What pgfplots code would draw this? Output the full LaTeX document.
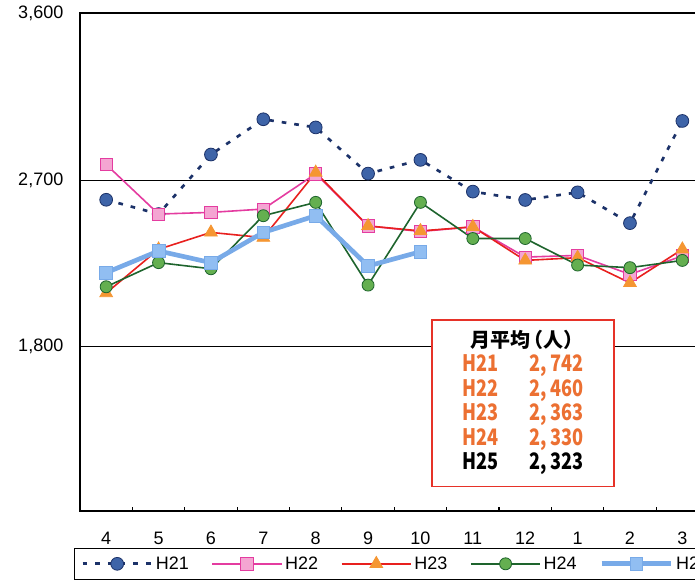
\documentclass[border=0pt]{standalone}
\usepackage{pgfplots}
\pgfplotsset{compat=1.18}
\usepackage{fontspec}
\setmainfont{Liberation Sans}
\newfontfamily\jp{Noto Sans CJK JP}
\newfontfamily\jpc{Noto Sans CJK JP}[FakeStretch=0.8]
\definecolor{c21}{RGB}{28,50,105}
\definecolor{c21f}{RGB}{62,100,168}
\definecolor{c22}{RGB}{228,60,160}
\definecolor{c22f}{RGB}{244,165,210}
\definecolor{c23}{RGB}{232,32,30}
\definecolor{c23f}{RGB}{245,150,50}
\definecolor{c24}{RGB}{30,100,45}
\definecolor{c24f}{RGB}{100,175,80}
\definecolor{c25}{RGB}{120,170,232}
\definecolor{c25f}{RGB}{145,190,242}
\definecolor{txtor}{RGB}{236,112,50}
\definecolor{boxred}{RGB}{230,50,40}
\begin{document}
\begin{tikzpicture}[x=1pt,y=1pt]
\useasboundingbox (-60,-55.5) rectangle (461.25,383.25);
\clip (-60,-55.5) rectangle (461.25,383.25);
\begin{axis}[
  at={(0,0)}, anchor=south west,
  scale only axis, width=471.4pt, height=373.5pt,
  xmin=-0.5, xmax=11.5, ymin=915, ymax=3600,
  xtick={0,...,11}, xticklabels={4,5,6,7,8,9,10,11,12,1,2,3},
  minor xtick={0.5,1.5,...,10.5},
  xtick pos=bottom, ytick pos=left,
  tick align=inside,
  major x tick style={draw=none},
  minor x tick style={black, line width=0.8pt},
  minor tick length=3.2pt,
  ytick={1800,2700,3600},
  ytick style={draw=none},
  ymajorgrids,
  major grid style={black, line width=0.6pt},
  axis line style={black, line width=1pt},
  /pgf/number format/assume math mode=true,
  /pgf/number format/1000 sep={,},
  tick label style={font=\fontsize{13.5}{16}\selectfont},
  xticklabel style={yshift=-12.5pt},
  yticklabel style={xshift=-9pt},
  legend columns=5,
  legend cell align=left,
  legend style={at={(-0.00955,-0.0743)}, anchor=north west, draw=black, line width=0.8pt,
    font=\fontsize{13.5}{16}\selectfont, inner xsep=5pt, inner ysep=4pt,
    /tikz/every even column/.append style={column sep=15pt}},
  legend image code/.code={
    \draw[mark repeat=2,mark phase=2,#1] plot coordinates {(0pt,0pt) (26pt,0pt) (52pt,0pt)};
  },
]
\addplot[c21, line width=2pt, dash pattern=on 3.5pt off 6pt,
  mark=*, mark size=4.8pt, mark options={solid, fill=c21f, draw=c21, line width=0.6pt}]
  coordinates {(0,2593)(1,2516)(2,2837)(3,3027)(4,2983)(5,2734)(6,2808)(7,2637)(8,2592)(9,2633)(10,2467)(11,3018)};
\addlegendentry{H21}
\addplot[c22, line width=1.2pt,
  mark=square*, mark size=4.6pt, mark options={solid, fill=c22f, draw=c22, line width=0.6pt}]
  coordinates {(0,2783)(1,2516)(2,2525)(3,2543)(4,2733)(5,2452)(6,2422)(7,2447)(8,2284)(9,2293)(10,2191)(11,2290)};
\addlegendentry{H22}
\addplot[c23, line width=1.2pt,
  mark=triangle*, mark size=5.5pt, mark options={solid, fill=c23f, draw=c23f, line width=0.6pt}]
  coordinates {(0,2090)(1,2326)(2,2417)(3,2389)(4,2740)(5,2452)(6,2425)(7,2447)(8,2266)(9,2281)(10,2145)(11,2326)};
\addlegendentry{H23}
\addplot[c24, line width=1.2pt,
  mark=*, mark size=4.5pt, mark options={solid, fill=c24f, draw=c24, line width=0.6pt}]
  coordinates {(0,2124)(1,2254)(2,2221)(3,2507)(4,2579)(5,2133)(6,2579)(7,2384)(8,2384)(9,2241)(10,2227)(11,2266)};
\addlegendentry{H24}
\addplot[c25, line width=3.5pt,
  mark=square*, mark size=4.8pt, mark options={solid, fill=c25f, draw=c25, line width=0.6pt}]
  coordinates {(0,2200)(1,2317)(2,2254)(3,2417)(4,2507)(5,2236)(6,2313)};
\addlegendentry{H25}
\node[draw=boxred, line width=1.1pt, fill=white, minimum width=136.5pt, minimum height=125pt,
  inner sep=0pt, align=center] at (axis cs:7.96,1495) {%
  \fontsize{17}{18.4}\selectfont
  \renewcommand{\arraystretch}{1}%
  \begin{tabular}{@{}l@{\hspace{17pt}}r@{}}
  \multicolumn{2}{c}{\jp\bfseries\fontsize{15}{18.4}\selectfont 月平均\kern-0.35em（人）\kern-0.4em}\\
  \jpc\bfseries\color{txtor}H21 & \jpc\bfseries\color{txtor}2,\,742\\
  \jpc\bfseries\color{txtor}H22 & \jpc\bfseries\color{txtor}2,\,460\\
  \jpc\bfseries\color{txtor}H23 & \jpc\bfseries\color{txtor}2,\,363\\
  \jpc\bfseries\color{txtor}H24 & \jpc\bfseries\color{txtor}2,\,330\\
  \jpc\bfseries H25 & \jpc\bfseries 2,\,323
  \end{tabular}};
\end{axis}
\end{tikzpicture}
\end{document}
